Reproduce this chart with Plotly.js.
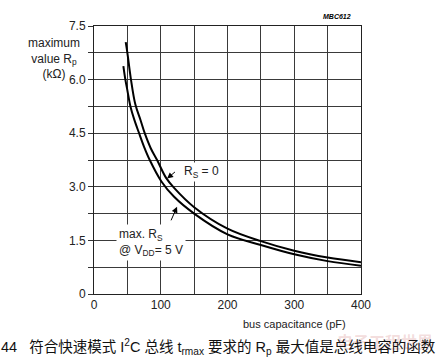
<!DOCTYPE html>
<html><head><meta charset="utf-8">
<script src="https://cdn.plot.ly/plotly-3.0.1.min.js"></script>
<style>html,body{margin:0;padding:0;background:#fff}#c{width:445px;height:364px}</style>
</head><body><div id="c"></div>
<script>
// Rs = 0 curve
var capUpper = [47.5, 50, 55, 62, 70, 76, 85, 94.5, 108, 120, 150, 200, 250, 300, 350, 400];
var rpUpper  = [7.05, 6.75, 6.05, 5.3, 4.85, 4.5, 4.08, 3.75, 3.25, 2.97, 2.43, 1.83, 1.48, 1.21, 1.02, 0.89];
// max Rs @ VDD = 5 V curve
var capLower = [44, 47, 50, 54.6, 60, 67.5, 75, 83.5, 101, 120, 150, 200, 250, 300, 350, 400];
var rpLower  = [6.38, 6.0, 5.7, 5.25, 4.9, 4.5, 4.12, 3.75, 3.15, 2.72, 2.25, 1.67, 1.37, 1.11, 0.92, 0.79];
// tick labels
var xTickVals = [0, 100, 200, 300, 400];
var xTickText = ['0', '100', '200', '300', '400'];
var yTickVals = [0, 1.5, 3.0, 4.5, 6.0, 7.5];
var yTickText = ['0', '1.5', '3.0', '4.5', '6.0', '7.5'];

var FONT = 'Liberation Sans, Arial, sans-serif';
var grid = '#3a3a3a';

var traces = [
  {x: capUpper, y: rpUpper, mode: 'lines', line: {color: '#000', width: 2, shape: 'spline'}, hoverinfo: 'skip'},
  {x: capLower, y: rpLower, mode: 'lines', line: {color: '#000', width: 2, shape: 'spline'}, hoverinfo: 'skip'}
];

var layout = {
  width: 445, height: 364,
  margin: {l: 94, r: 84, t: 26, b: 70},
  paper_bgcolor: '#fff', plot_bgcolor: '#fff',
  showlegend: false,
  font: {family: FONT, size: 12, color: '#222'},
  xaxis: {
    range: [0, 400], tickvals: xTickVals, ticktext: xTickText,
    showgrid: true, gridcolor: grid, gridwidth: 1,
    minor: {dtick: 50, showgrid: true, gridcolor: grid, gridwidth: 1},
    showline: true, linecolor: '#222', linewidth: 1, mirror: true,
    ticks: '', zeroline: false, fixedrange: true,
    tickfont: {family: FONT, size: 12, color: '#222'}
  },
  yaxis: {
    range: [0, 7.5], tickvals: yTickVals, ticktext: yTickText,
    showgrid: true, gridcolor: grid, gridwidth: 1,
    minor: {dtick: 0.75, showgrid: true, gridcolor: grid, gridwidth: 1, ticks: 'outside', ticklen: 5, tickcolor: '#333'},
    ticks: 'outside', ticklen: 5, tickcolor: '#333',
    showline: true, linecolor: '#222', linewidth: 1, mirror: true,
    zeroline: false, fixedrange: true,
    tickfont: {family: FONT, size: 12, color: '#222'}
  },
  annotations: [
    // y axis title
    {xref: 'paper', yref: 'paper', x: -0.151, y: 0.97, xanchor: 'center', yanchor: 'top',
     text: 'maximum<br>value R<sub>p</sub><br>(kΩ)', showarrow: false, align: 'center',
     font: {family: FONT, size: 12, color: '#222'}},
    // x axis title
    {xref: 'paper', yref: 'paper', x: 0.951, y: -0.113, xanchor: 'right', yanchor: 'middle',
     text: 'bus capacitance (pF)', showarrow: false, font: {family: FONT, size: 11, color: '#222'}},
    // figure id
    {xref: 'paper', yref: 'paper', x: 0.91, y: 1.034, xanchor: 'center', yanchor: 'middle',
     text: '<b><i>MBC612</i></b>', showarrow: false, font: {family: FONT, size: 7, color: '#000'}},
    // Rs = 0 arrow
    {x: 109.5, y: 3.23, ax: 123.5, ay: 3.45, axref: 'x', ayref: 'y', text: '', showarrow: true,
     arrowhead: 2, arrowsize: 1.2, arrowwidth: 1, arrowcolor: '#000'},
    {x: 132.5, y: 3.42, xanchor: 'left', yanchor: 'middle', text: 'R<sub>S</sub> = 0', showarrow: false,
     bgcolor: '#fff', borderpad: 1, font: {family: FONT, size: 12, color: '#222'}},
    // max Rs arrow
    {x: 124.4, y: 2.44, ax: 114.5, ay: 2.02, axref: 'x', ayref: 'y', text: '', showarrow: true,
     arrowhead: 2, arrowsize: 1.2, arrowwidth: 1, arrowcolor: '#000'},
    {x: 32.5, y: 1.45, xanchor: 'left', yanchor: 'middle', align: 'left',
     text: 'max. R<sub>S</sub><br>@ V<sub>DD</sub>= 5 V', showarrow: false,
     bgcolor: '#fff', borderpad: 2, font: {family: FONT, size: 12, color: '#222'}},
    // watermark
    {xref: 'paper', yref: 'paper', x: 1.09, y: -0.175, xanchor: 'center', yanchor: 'middle',
     text: '<b>电子工程世界</b>', showarrow: false,
     font: {family: 'Noto Sans CJK SC, sans-serif', size: 16, color: 'rgba(215,140,140,0.3)'}},
    // caption
    {xref: 'paper', yref: 'paper', x: -0.355, y: -0.199, xanchor: 'left', yanchor: 'middle',
     text: '44&nbsp;&nbsp;&nbsp;符合快速模式 I<sup>2</sup>C 总线 t<sub>rmax</sub> 要求的 R<sub>p</sub> 最大值是总线电容的函数',
     showarrow: false, font: {family: 'Liberation Sans, Noto Sans CJK SC, sans-serif', size: 14.5, color: '#111'}}
  ]
};

Plotly.newPlot('c', traces, layout, {displayModeBar: false, staticPlot: true});
</script>
</body></html>
